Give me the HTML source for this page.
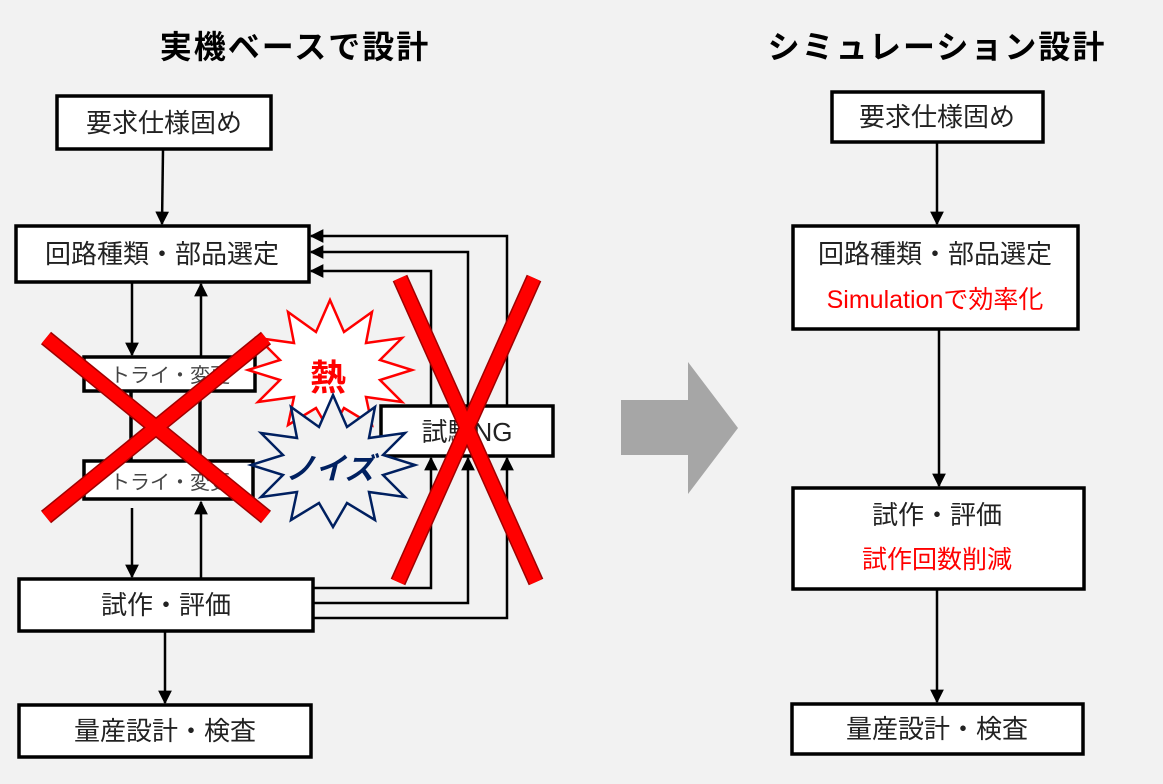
<!DOCTYPE html>
<html><head><meta charset="utf-8"><style>
html,body{margin:0;padding:0;background:#f2f2f2;}
svg{display:block;}
text{font-family:"Liberation Sans","Noto Sans CJK JP",sans-serif;}
</style></head><body>
<svg width="1163" height="784" viewBox="0 0 1163 784" xmlns="http://www.w3.org/2000/svg">
<defs>
<marker id="ah" viewBox="0 0 10 10" refX="9" refY="5" markerWidth="5.5" markerHeight="5.5" orient="auto-start-reverse"><path d="M0,0L10,5L0,10z" fill="#000"/></marker>
</defs>
<rect width="1163" height="784" fill="#f2f2f2"/>
<g font-size="32" font-weight="bold" text-anchor="middle" fill="#000">
<text x="295" y="58" letter-spacing="2">実機ベースで設計</text>
<text x="937" y="58" letter-spacing="2">シミュレーション設計</text>
</g>
<g fill="#fff" stroke="#000" stroke-width="3.5">
<rect x="57" y="96" width="214" height="53"/>
<rect x="16" y="226" width="293" height="56"/>
<rect x="84" y="357" width="171" height="34"/>
<rect x="84" y="461" width="169" height="38"/>
<rect x="19" y="579" width="294" height="52"/>
<rect x="19" y="705" width="292" height="52"/>
<rect x="381" y="406" width="172" height="50"/>
<rect x="832" y="92" width="211" height="50"/>
<rect x="793" y="226" width="285" height="103"/>
<rect x="793" y="488" width="291" height="101"/>
<rect x="792" y="704" width="291" height="50"/>
</g>
<g stroke="#000" stroke-width="2.5" fill="none" marker-end="url(#ah)">
<line x1="163" y1="150" x2="162" y2="224"/>
<line x1="132" y1="283" x2="132" y2="355"/>
<line x1="201" y1="357" x2="201" y2="284"/>
<line x1="132" y1="508" x2="132" y2="577"/>
<line x1="201" y1="579" x2="201" y2="502"/>
<line x1="165" y1="632" x2="165" y2="703"/>
<polyline points="313,588 431,588 431,458"/>
<polyline points="313,603 468,603 468,458"/>
<polyline points="313,618 507,618 507,458"/>
<polyline points="431,406 431,271 311,271"/>
<polyline points="468,406 468,252 311,252"/>
<polyline points="507,406 507,236 311,236"/>
<line x1="937" y1="143" x2="937" y2="224"/>
<line x1="939" y1="330" x2="939" y2="486"/>
<line x1="937" y1="590" x2="937" y2="702"/>
</g>
<g stroke="#000" stroke-width="3.5">
<line x1="131" y1="391" x2="131" y2="461"/>
<line x1="200" y1="391" x2="200" y2="461"/>
</g>
<g font-size="20" fill="#444" text-anchor="middle">
<text x="170" y="382">トライ・変更</text>
<text x="170" y="489">トライ・変更</text>
</g>
<g font-size="26" fill="#222" text-anchor="middle">
<text x="164" y="132">要求仕様固め</text>
<text x="162" y="263">回路種類・部品選定</text>
<text x="166" y="614">試作・評価</text>
<text x="165" y="740">量産設計・検査</text>
<text x="467" y="441">試験NG</text>
<text x="937" y="126">要求仕様固め</text>
<text x="935" y="263">回路種類・部品選定</text>
<text x="937" y="524">試作・評価</text>
<text x="937" y="738">量産設計・検査</text>
</g>
<g font-size="25" fill="#ff0000" text-anchor="middle">
<text x="935" y="308">Simulationで効率化</text>
<text x="937" y="568">試作回数削減</text>
</g>
<polygon points="412,370 380,380 402,402 366,397 372,425 344,408 330,432 316,408 288,425 294,397 258,402 280,380 248,370 280,360 258,338 294,343 288,312 316,332 330,300 344,332 372,312 366,343 402,338 380,360" fill="#fff" stroke="#ff0000" stroke-width="2.5"/>
<text x="328" y="390" font-size="36" font-weight="bold" fill="#ff0000" text-anchor="middle">熱</text>
<polygon transform="translate(3,95)" points="412,370 380,380 402,402 366,397 372,425 344,408 330,432 316,408 288,425 294,397 258,402 280,380 248,370 280,360 258,338 294,343 288,312 316,332 330,300 344,332 372,312 366,343 402,338 380,360" fill="#f2f2f2" stroke="#002060" stroke-width="2.5"/>
<text x="330" y="479" font-size="30" font-weight="bold" font-style="italic" fill="#002060" text-anchor="middle">ノイズ</text>
<g stroke="#a00000" stroke-width="16" stroke-linecap="butt">
<line x1="46" y1="338" x2="266" y2="517"/>
<line x1="266" y1="338" x2="46" y2="517"/>
<line x1="400" y1="278" x2="536" y2="582"/>
<line x1="534" y1="278" x2="398" y2="582"/>
</g>
<g stroke="#ff0000" stroke-width="13" stroke-linecap="butt">
<line x1="46" y1="338" x2="266" y2="517"/>
<line x1="266" y1="338" x2="46" y2="517"/>
<line x1="400" y1="278" x2="536" y2="582"/>
<line x1="534" y1="278" x2="398" y2="582"/>
</g>
<polygon points="621,400 688,400 688,362 738,428 688,494 688,455 621,455" fill="#a6a6a6"/>
</svg>
</body></html>
